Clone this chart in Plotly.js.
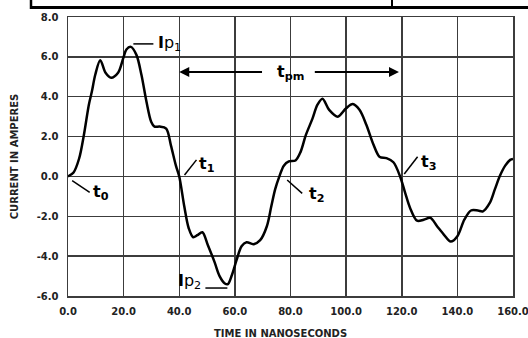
<!DOCTYPE html>
<html>
<head>
<meta charset="utf-8">
<script src="https://cdn.plot.ly/plotly-3.0.1.min.js"></script>
<style>
html,body{margin:0;padding:0;background:#fff;}
#chart{width:528px;height:338px;}
</style>
</head>
<body>
<div id="chart"></div>
<script>
// Time in nanoseconds
var timeNs = [0,2,4,5.7,7.5,8.6,9.8,11.6,13.5,15.5,18,19.9,21,22.6,24.6,26.4,28.2,29.9,31.1,33,35.3,37,38.8,40,41.8,43.4,45,46.5,48.3,50.3,52.7,54.5,56.4,57.5,58.8,60.6,62.4,64.2,66.7,69.1,71.5,73.1,74.5,76,77.6,79.4,81.8,83.6,85.5,87.9,89.7,91.5,93.9,97,100,102.4,104.8,107.3,109.7,112.1,114.5,117,119.4,121.2,123,125.5,127.9,130.3,132.7,135.2,137.6,140,142.5,144.9,147.4,149.2,151.7,153.5,155.3,157.2,159,160];
// Current in amperes
var currentA = [0,0.2,0.9,2.07,3.6,4.27,5.1,5.83,5.2,4.95,5.2,5.95,6.37,6.5,6.1,5.1,3.76,2.75,2.5,2.5,2.4,1.56,0.54,0,-1.5,-2.6,-3.05,-2.95,-2.8,-3.45,-4.3,-5.0,-5.37,-5.4,-5.0,-4.2,-3.5,-3.3,-3.4,-3.2,-2.5,-1.5,-0.64,0,0.54,0.75,0.8,1.22,2.07,2.9,3.6,3.9,3.34,3.0,3.42,3.63,3.34,2.58,1.64,0.97,0.92,0.71,0,-0.81,-1.58,-2.22,-2.17,-2.08,-2.5,-2.93,-3.27,-3.0,-2.17,-1.71,-1.71,-1.75,-1.32,-0.64,0.03,0.54,0.83,0.88];

var xTickVals = [0,20,40,60,80,100,120,140,160];
var xTickText = ["0.0","20.0","40.0","60.0","80.0","100.0","120.0","140.0","160.0"];
var yTickVals = [8,6,4,2,0,-2,-4,-6];
var yTickText = ["8.0","6.0","4.0","2.0","0.0","-2.0","-4.0","-6.0"];

var FONT = "DejaVu Sans, Liberation Sans, Arial, sans-serif";
var gridColor = "#3c3c3c";

var trace = {
  x: timeNs, y: currentA, type: "scatter", mode: "lines",
  line: {color: "#000", width: 2.5, shape: "spline", smoothing: 0.9},
  hoverinfo: "skip"
};

function seg(x0,y0,x1,y1,w){
  return {type:"line", xref:"x", yref:"y", x0:x0, y0:y0, x1:x1, y1:y1, line:{color:"#000", width:w||1.5}};
}
function pseg(px0,py0,px1,py1,w){
  // pixel coords -> paper coords (plot area: x 68..513, y 17..296)
  var fx = function(p){return (p-68)/445;};
  var fy = function(p){return (296-p)/279;};
  return {type:"line", xref:"paper", yref:"paper", x0:fx(px0), y0:fy(py0), x1:fx(px1), y1:fy(py1), line:{color:"#000", width:w}};
}
function lab(x,y,text,xa){
  return {x:x, y:y, xref:"x", yref:"y", text:text, showarrow:false, xanchor:xa||"center", yanchor:"middle",
    font:{family:FONT, size:16, color:"#000"}};
}

var layout = {
  width: 528, height: 338,
  margin: {l:68, r:15, t:17, b:42},
  paper_bgcolor: "#fff", plot_bgcolor: "#fff",
  showlegend: false,
  font: {family: FONT, color: "#222"},
  xaxis: {
    range: [0,160], tickvals: xTickVals, ticktext: xTickText,
    showgrid: true, gridcolor: gridColor, gridwidth: 1.5,
    showline: true, linecolor: gridColor, linewidth: 1.5, mirror: true,
    zeroline: false, ticks: "", ticklen: 0, ticklabelstandoff: 5, ticklabeloverflow: "allow",
    automargin: false,
    tickfont: {family: FONT, size: 10, color: "#222", weight: "bold"},
    fixedrange: true
  },
  yaxis: {
    range: [-6,8], tickvals: yTickVals, ticktext: yTickText,
    showgrid: true, gridcolor: gridColor, gridwidth: 1.5,
    showline: true, linecolor: gridColor, linewidth: 1.5, mirror: true,
    zeroline: false, ticks: "", ticklen: 0, ticklabelstandoff: 6,
    tickfont: {family: FONT, size: 10, color: "#222", weight: "bold"},
    title: {text: "CURRENT IN AMPERES", standoff: 16, font: {family: FONT, size: 10, color: "#222", weight: "bold"}},
    fixedrange: true
  },
  shapes: [
    seg(1.5,-0.21,7.8,-0.8),
    seg(41.9,0.07,46.2,0.83),
    seg(78.8,-0.18,84.2,-0.85),
    seg(120.9,0.12,125.7,0.99),
    seg(23.5,6.65,30.7,6.65),
    seg(49.4,-5.6,57.3,-5.6),
    pseg(31,0,31,9,2.5),
    pseg(31,7.5,530,7.5,3),
    pseg(392,0,392,7.5,2)
  ],
  annotations: [
    lab(12.0,-0.83,"<b>t<sub>0</sub></b>"),
    lab(49.8,0.62,"<b>t<sub>1</sub></b>"),
    lab(89.3,-0.93,"<b>t<sub>2</sub></b>"),
    lab(129.6,0.72,"<b>t<sub>3</sub></b>"),
    lab(31.8,6.65,"<b>I</b>p<sub>1</sub>","left"),
    lab(48.7,-5.25,"<b>I</b>p<sub>2</sub>","right"),
    lab(80,5.24,"<b>t<sub>pm</sub></b>"),
    {x:40, y:5.24, ax:70.3, ay:5.24, xref:"x", yref:"y", axref:"x", ayref:"y", text:"", showarrow:true,
      arrowhead:2, arrowsize:1, arrowwidth:2, arrowcolor:"#000"},
    {x:119, y:5.24, ax:88.2, ay:5.24, xref:"x", yref:"y", axref:"x", ayref:"y", text:"", showarrow:true,
      arrowhead:2, arrowsize:1, arrowwidth:2, arrowcolor:"#000"},
    {x:0.477, y:-0.135, xref:"paper", yref:"paper", text:"<b>TIME IN NANOSECONDS</b>", showarrow:false,
      xanchor:"center", yanchor:"middle", font:{family:FONT, size:10, color:"#222"}}
  ]
};

Plotly.newPlot("chart", [trace], layout, {staticPlot: true, displayModeBar: false});
</script>
</body>
</html>
